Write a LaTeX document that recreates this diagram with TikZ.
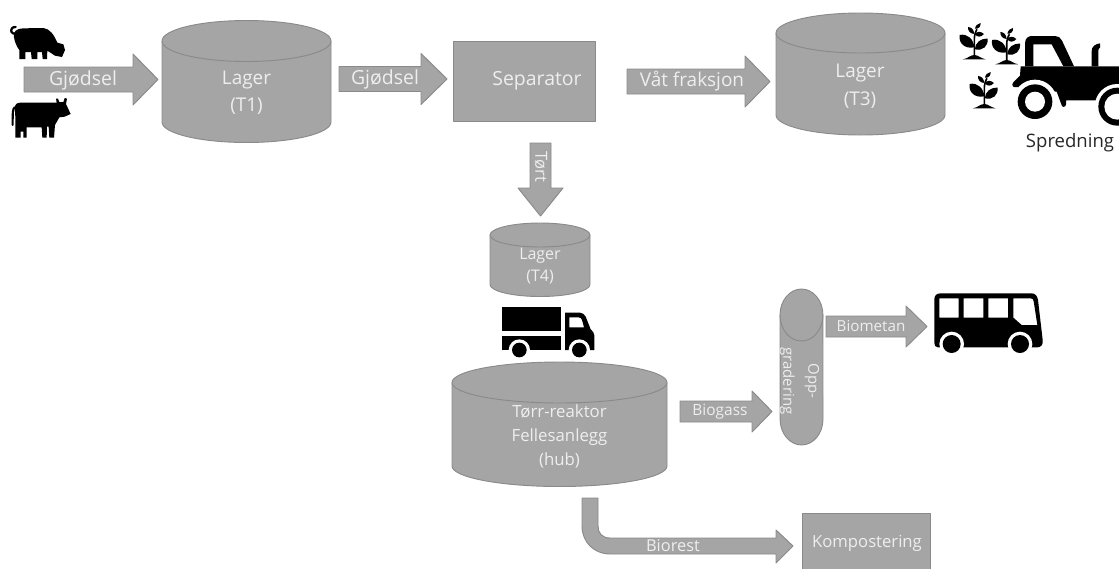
\documentclass[tikz,border=0pt]{standalone}
\usepackage{fontspec}
\setmainfont{Open Sans}
\definecolor{shapefill}{HTML}{A5A5A5}
\definecolor{shapeline}{HTML}{8A8A8A}
\definecolor{labeltext}{HTML}{EEEEEE}
\definecolor{darktext}{HTML}{262626}
\tikzset{
  shapebody/.style={fill=shapefill,draw=shapeline,line width=0.7pt,line join=round},
  label/.style={text=labeltext,inner sep=0pt,align=center,font=\fontsize{#1}{#1}\selectfont},
  label/.default=14.6,
  zoomed/.style={x=0.25pt,y=-0.25pt}
}
% x1 x2 ytop-of-top-ellipse ry y-centre-of-bottom-ellipse
\newcommand{\cylshape}[5]{%
  \pgfmathsetmacro{\rx}{(#2-#1)/2}\pgfmathsetmacro{\yt}{#3+#4}
  \path[shapebody] (#1,\yt) -- (#1,#5) arc[start angle=180,end angle=360,x radius=\rx*0.75pt,y radius=#4*0.75pt] -- (#2,\yt) arc[start angle=0,end angle=180,x radius=\rx*0.75pt,y radius=#4*0.75pt] -- cycle;
  \path[shapebody,fill=none] (#1,\yt) arc[start angle=180,end angle=360,x radius=\rx*0.75pt,y radius=#4*0.75pt];
}
% horizontal: x-start head-base tip y-centre half-shaft half-head
\newcommand{\hblock}[6]{%
  \path[shapebody] (#1,#4-#5) -- (#2,#4-#5) -- (#2,#4-#6) -- (#3,#4) -- (#2,#4+#6) -- (#2,#4+#5) -- (#1,#4+#5) -- cycle;
}
\newcommand{\plantshape}{%
  \fill (-34,0) .. controls (-18,-3) and (-14,-12) .. (0,-13) .. controls (14,-12) and (18,-3) .. (34,0) -- cycle;
  \draw[line width=1.2pt] (0,-5) -- (0,-60) .. controls (0,-75) and (5,-85) .. (8,-90);
  \fill (0,-36) .. controls (-2,-60) and (-20,-78) .. (-44,-73) .. controls (-48,-48) and (-28,-30) .. (0,-36) -- cycle;
  \fill (2,-30) .. controls (4,-52) and (18,-62) .. (40,-62) .. controls (42,-40) and (26,-24) .. (2,-30) -- cycle;
  \fill (0,-76) .. controls (-2,-90) and (-8,-96) .. (-19,-97) .. controls (-20,-86) and (-12,-76) .. (0,-76) -- cycle;
  \fill (2,-75) .. controls (8,-85) and (18,-85) .. (29,-76) .. controls (20,-65) and (8,-66) .. (2,-75) -- cycle;
  \fill (2,-92) .. controls (4,-102) and (10,-107) .. (19,-109) .. controls (20,-98) and (12,-90) .. (2,-92) -- cycle;
}
\begin{document}
\begin{tikzpicture}[x=0.75pt,y=-0.75pt]
\path[clip,use as bounding box] (0,0) rectangle (1119,568);
% pig
\begin{scope}[zoomed]
\fill[black] (42,112) .. controls (38,95) and (50,85) .. (70,85) -- (130,84) .. controls (150,86) and (162,105) .. (172,128) -- (190,133) -- (195,150) -- (186,171) -- (165,167) -- (142,152) -- (141,177) -- (128,177) -- (126,156) -- (112,156) -- (112,177) -- (95,177) -- (93,156) -- (76,156) -- (76,177) -- (58,177) -- (58,150) .. controls (50,140) and (44,125) .. (42,112) -- cycle;
\draw[line width=1.7pt,line cap=round] (48,101) .. controls (35,103) and (30,92) .. (36,85) .. controls (38,82) and (42,81) .. (47,81);
% cow
\fill[black] (44,322) .. controls (46,312) and (52,308) .. (62,308) -- (170,308) -- (168,296) -- (174,296) -- (178,306) -- (190,306) -- (194,294) -- (201,296) -- (198,312) -- (212,342) -- (194,350) -- (178,352) -- (165,375) -- (162,413) -- (148,413) -- (146,380) -- (141,380) -- (140,413) -- (127,413) -- (125,382) -- (80,382) -- (80,413) -- (70,413) -- (70,395) -- (62,395) -- (62,413) -- (46,413) -- (46,350) -- cycle;
\draw[line width=1.6pt,line cap=round] (44,322) .. controls (38,328) and (38,335) .. (38,375);
\end{scope}
% plants
\begin{scope}[shift={(974.3,59.3)},zoomed]\plantshape\end{scope}
\begin{scope}[shift={(1006.7,64.3)},zoomed]\plantshape\end{scope}
\begin{scope}[shift={(984.3,108.3)},zoomed]\plantshape\end{scope}
% tractor
\begin{scope}[shift={(1000,25)},zoomed]
\fill[black,even odd rule] (75,124) -- (75,55) .. controls (75,40) and (85,33) .. (95,33) -- (165,33) .. controls (175,33) and (182,38) .. (186,47) -- (222,124) -- cycle (100,58) -- (155,58) -- (190,124) -- (100,124) -- cycle;
\fill[black] (275,124) -- (275,78) .. controls (275,65) and (285,57) .. (300,55) -- (300,68) .. controls (296,70) and (295,72) .. (295,78) -- (295,124) -- cycle;
\fill[black] (62,124) -- (360,124) -- (360,190) -- (290,226) -- (198,226) -- (198,238) .. controls (198,248) and (184,248) .. (184,238) -- (170,200) -- (48,186) .. controls (40,190) and (33,180) .. (40,172) -- (60,152) -- cycle;
\fill[white] (105,230) circle[radius=66];
\fill[white] (352,245) circle[radius=68];
\fill[black] (105,230) circle[radius=52];
\fill[white] (105,230) circle[radius=30];
\fill[black] (352,245) circle[radius=57];
\fill[white] (352,245) circle[radius=39];
\end{scope}
% truck
\begin{scope}[shift={(470,210)},zoomed]
\fill[black] (97,290) rectangle (273,363);
\fill[black] (97,377) rectangle (273,420);
\fill[black,even odd rule] (285,308) -- (330,308) .. controls (338,308) and (344,314) .. (347,320) -- (362,358) .. controls (368,364) and (373,368) .. (373,376) -- (373,420) -- (285,420) -- cycle (298,322) -- (326,322) .. controls (332,322) and (334,326) .. (336,330) -- (342,352) -- (298,352) -- cycle;
\fill[white] (148,420) circle[radius=32];
\fill[white] (328,420) circle[radius=32];
\fill[black] (148,420) circle[radius=22];
\fill[black] (328,420) circle[radius=22];
\end{scope}
% bus
\begin{scope}[shift={(670,270)},zoomed]
\fill[black,even odd rule] (793,88) .. controls (793,76) and (800,70) .. (812,70) -- (1085,70) .. controls (1096,70) and (1102,78) .. (1104,90) -- (1118,210) .. controls (1120,225) and (1112,232) .. (1102,232) -- (803,232) .. controls (796,232) and (793,226) .. (793,218) -- cycle
 (808,85) -- (866,85) -- (866,143) -- (808,143) -- cycle
 (881,85) -- (940,85) -- (940,143) -- (881,143) -- cycle
 (955,85) -- (1014,85) -- (1014,143) -- (955,143) -- cycle
 (1030,85) -- (1082,85) .. controls (1088,85) and (1090,88) .. (1091,94) -- (1102,165) -- (1055,165) -- (1030,143) -- cycle;
\fill[white] (845,222) circle[radius=37];
\fill[white] (1050,222) circle[radius=37];
\fill[black] (845,222) circle[radius=27];
\fill[black] (1050,222) circle[radius=27];
\end{scope}
% block arrows
\hblock{24}{133}{158}{79.5}{12.5}{25.5}
\hblock{339}{421}{447}{79}{12.5}{25.5}
\hblock{627}{745}{770}{81.5}{12.5}{25.5}
\hblock{680}{752}{772}{411.5}{10.5}{20.5}
\hblock{826}{906}{927}{326.5}{10.5}{20.5}
\path[shapebody] (530,143) -- (551,143) -- (551,188) -- (563,188) -- (540.5,216) -- (518,188) -- (530,188) -- cycle;
\path[shapebody] (582,498) -- (598,498) -- (598,526) .. controls (598,533) and (602,538) .. (610,538) -- (776,538) -- (776,530) -- (793,546) -- (776,563) -- (776,554) -- (610,554) .. controls (594,554) and (582,542) .. (582,526) -- cycle;
% cylinders
\cylshape{162}{331}{20.5}{20.5}{122}
\cylshape{776}{945}{13}{20}{115}
\cylshape{490}{590}{223}{12}{284.5}
\cylshape{452}{667}{362}{20.5}{466}
% capsule
\path[shapebody] (780,315) arc[start angle=180,end angle=0,x radius=16.1pt,y radius=19.5pt] -- (823,419) arc[start angle=0,end angle=-180,x radius=16.1pt,y radius=19.5pt] -- cycle;
\path[shapebody,fill=none] (780,315) arc[start angle=180,end angle=360,x radius=16.1pt,y radius=19.5pt];
% rectangles
\path[shapebody] (453,41) rectangle (595,121);
\path[shapebody] (802,513) rectangle (930,580);
% labels
\node[label] (lgj1) at (83,80) {Gjødsel};
\node[label=14.2] (lt1) at (246.5,92.5) {Lager\\[6pt](T1)};
\node[label] (lgj2) at (385,79) {Gjødsel};
\node[label] (lsep) at (537,81) {Separator};
\node[label=14.2] (lvat) at (692,81) {Våt fraksjon};
\node[label=14.2] (lt3) at (860,86) {Lager\\[6.5pt](T3)};
\node[label=12.5,rotate=-90] (ltort) at (541,167) {Tørt};
\node[label=12] (lt4) at (540,266) {Lager\\[4.5pt](T4)};
\node[label=12.6] (lhub) at (559.5,436) {Tørr-reaktor\\[5.4pt]Fellesanlegg\\[5.4pt](hub)};
\node[label=11.6] (lbiog) at (720,412) {Biogass};
\node[label=11.4] (lbiom) at (871,326) {Biometan};
\node[label=11.2,rotate=-90,align=center] (lopp) at (799.5,381) {Opp-\\[7.5pt]gradering};
\node[label=12.3] (lbior) at (673,546) {Biorest};
\node[label=12.5] (lkomp) at (867,543) {Kompostering};
\node[text=darktext,inner sep=0pt,font=\fontsize{13.9}{13.9}\selectfont] (lspr) at (1070,143) {Spredning};
\end{tikzpicture}
\end{document}
